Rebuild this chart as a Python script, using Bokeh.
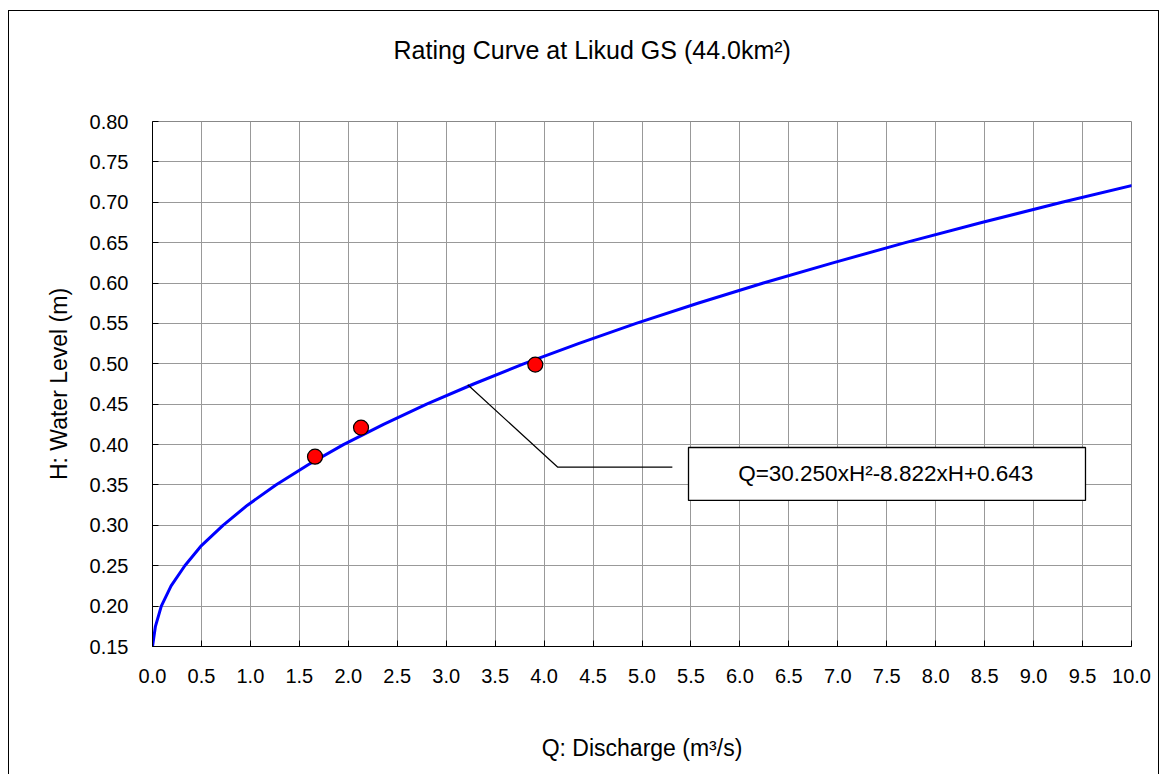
from bokeh.plotting import figure
from bokeh.models import Range1d, FixedTicker, NumeralTickFormatter, Label, BoxAnnotation, Title
from bokeh.embed import file_html
from bokeh.resources import INLINE

# ---------------- data ----------------
title_text = "Rating Curve at Likud GS (44.0km\u00b2)"
x_label = "Q: Discharge (m\u00b3/s)"
y_label = "H: Water Level (m)"
equation_text = "Q=30.250xH\u00b2-8.822xH+0.643"

x_ticks = [0.0, 0.5, 1.0, 1.5, 2.0, 2.5, 3.0, 3.5, 4.0, 4.5, 5.0,
           5.5, 6.0, 6.5, 7.0, 7.5, 8.0, 8.5, 9.0, 9.5, 10.0]
y_ticks = [0.15, 0.20, 0.25, 0.30, 0.35, 0.40, 0.45, 0.50, 0.55,
           0.60, 0.65, 0.70, 0.75, 0.80]

# rating curve (discharge, water level)
curve_q = [0.00, 0.03, 0.09, 0.19, 0.33, 0.50, 0.72, 0.97, 1.26, 1.59,
           1.95, 2.36, 2.80, 3.28, 3.79, 4.35, 4.94, 5.57, 6.24, 6.95,
           7.69, 8.47, 9.29, 10.15]
curve_h = [0.150, 0.175, 0.200, 0.225, 0.250, 0.275, 0.300, 0.325, 0.350,
           0.375, 0.400, 0.425, 0.450, 0.475, 0.500, 0.525, 0.550, 0.575,
           0.600, 0.625, 0.650, 0.675, 0.700, 0.725]

# measured points
obs_q = [1.66, 2.13, 3.91]
obs_h = [0.385, 0.421, 0.499]

# leader line for the equation box
leader_q = [3.22, 4.14, 5.31]
leader_h = [0.474, 0.372, 0.372]

FONT = "Liberation Sans"

p = figure(width=1151, height=764,
           x_range=Range1d(0, 10), y_range=Range1d(0.15, 0.80),
           output_backend="svg", toolbar_location=None,
           min_border_left=143, min_border_right=29,
           min_border_top=110, min_border_bottom=129,
           background_fill_color="white", border_fill_color="white")
p.styles = {"margin-left": "8px", "margin-top": "10px",
            "border-top": "1px solid black", "border-left": "1px solid black",
            "border-right": "1px solid black"}

# spacer between frame and title
p.add_layout(Title(text=" ", text_font_size="1px", standoff=50), "above")

p.title.text = title_text
p.title.text_font = FONT
p.title.text_font_size = "25px"
p.title.text_font_style = "normal"
p.title.text_color = "black"
p.title.align = "left"
p.title.offset = 241
p.title.standoff = 10

p.outline_line_color = "#888888"
p.outline_line_width = 1

p.xgrid.grid_line_color = "#999999"
p.ygrid.grid_line_color = "#999999"
p.xgrid.ticker = FixedTicker(ticks=x_ticks)
p.ygrid.ticker = FixedTicker(ticks=y_ticks)

for ax, ticks, fmt in ((p.xaxis[0], x_ticks, "0.0"), (p.yaxis[0], y_ticks, "0.00")):
    ax.ticker = FixedTicker(ticks=ticks, minor_ticks=[])
    ax.formatter = NumeralTickFormatter(format=fmt)
    ax.axis_line_color = "black"
    ax.axis_line_width = 1
    ax.major_tick_in = 6
    ax.major_tick_out = 0
    ax.major_tick_line_color = "black"
    ax.minor_tick_line_color = None
    ax.major_label_text_font = FONT
    ax.major_label_text_font_size = "20px"
    ax.major_label_text_color = "black"
    ax.axis_label_text_font = FONT
    ax.axis_label_text_font_size = "23px"
    ax.axis_label_text_font_style = "normal"
    ax.axis_label_text_color = "black"

p.xaxis.axis_label = x_label
p.yaxis.axis_label = y_label
p.xaxis.major_label_standoff = 22
p.yaxis.major_label_standoff = 24
p.xaxis.axis_label_standoff = 49
p.yaxis.axis_label_standoff = 15

# curve and points
p.line(curve_q, curve_h, line_color="#0000ff", line_width=3)
p.scatter(obs_q, obs_h, size=15, fill_color="#ff0000",
          line_color="black", line_width=1.2)

# leader line and equation box
p.line(leader_q, leader_h, line_color="black", line_width=1.2)
box = BoxAnnotation(left=5.475, right=9.53, top=0.3964, bottom=0.3308,
                    fill_color="white", fill_alpha=1.0,
                    line_color="black", line_alpha=1.0, line_width=1.3)
p.add_layout(box)
p.add_layout(Label(x=7.49, y=0.3636, text=equation_text,
                   text_font=FONT, text_font_size="22.5px",
                   text_align="center", text_baseline="middle",
                   text_color="black"))

open("out.html", "w").write(file_html(p, INLINE))
